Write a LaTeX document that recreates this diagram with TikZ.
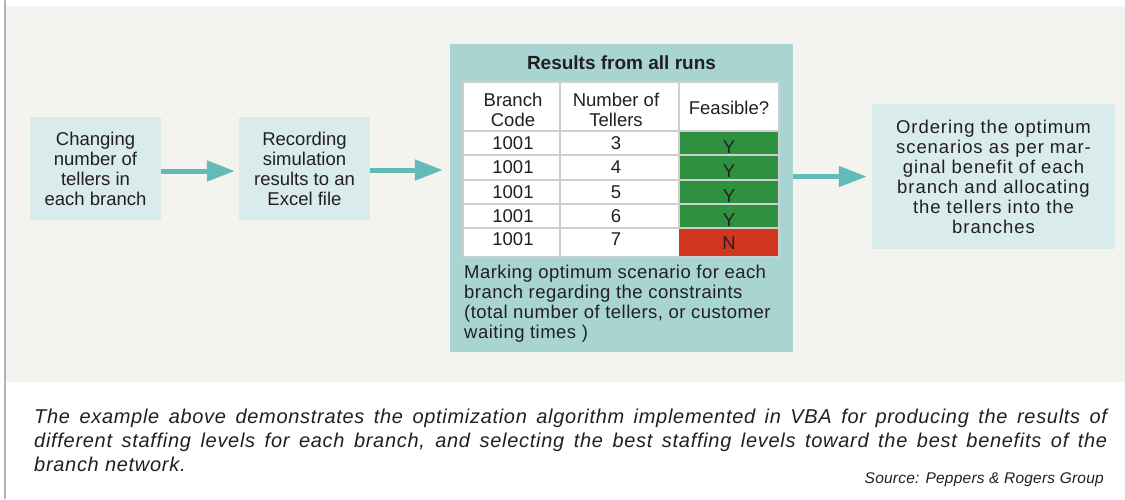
\documentclass[tikz,border=0pt]{standalone}
\usepackage{fontspec}
\setmainfont{Liberation Sans}
\newfontfamily\wideA[LetterSpace=5]{Liberation Sans}
\newfontfamily\wideB[LetterSpace=2.5]{Liberation Sans}
\newfontfamily\capfont[LetterSpace=3.5]{Liberation Sans}
\newfontfamily\srcfont[LetterSpace=1.5]{Liberation Sans}
\usetikzlibrary{arrows.meta}
\definecolor{bgc}{HTML}{F3F4EF}
\definecolor{boxc}{HTML}{D9EBEA}
\definecolor{panelc}{HTML}{A8D4D2}
\definecolor{arrc}{HTML}{62BBB6}
\definecolor{ygreen}{HTML}{2E9140}
\definecolor{nred}{HTML}{D2361E}
\definecolor{txt}{HTML}{231F20}
\definecolor{gridc}{HTML}{CFCFCF}
\definecolor{bordc}{HTML}{B4B4B4}
\tikzset{
  lbox/.style={fill=boxc, inner sep=0pt, align=center, text=txt,
    font=\fontsize{18.5}{20}\selectfont},
  panel/.style={fill=panelc, inner sep=0pt},
  cell/.style={inner sep=0pt, align=center, text=txt,
    font=\fontsize{18.5}{20}\selectfont},
  arr/.style={draw=arrc, line width=5pt, -{Triangle[length=28pt,width=20pt]}},
  captext/.style={inner sep=0pt, text=txt, font=\capfont\fontsize{20}{24}\selectfont\itshape},
}
\begin{document}
\begin{tikzpicture}[x=1pt,y=-1pt]
\useasboundingbox (0,0) rectangle (1125,499);
\fill[white] (0,0) rectangle (1125,499);
\fill[bgc] (6,6) rectangle (1125,382);
\draw[bordc, line width=2pt] (5,0) -- (5,499);

% boxes
\node[lbox, minimum width=131pt, minimum height=103pt] (b1) at (95.5,168.5)
  {Changing\\number of\\tellers in\\each branch};
\node[lbox, minimum width=131pt, minimum height=103pt] (b2) at (304.5,168.5)
  {Recording\\simulation\\results to an\\Excel file};
\node[panel, minimum width=343pt, minimum height=308pt] (tab) at (621.5,198) {};
\node[lbox, minimum width=243pt, minimum height=145pt, font=\wideA\fontsize{18.5}{20}\selectfont] (b4) at (993.5,176.5)
  {Ordering the optimum\\scenarios as per mar-\\ginal benefit of each\\branch and allocating\\the tellers into the\\branches};

% table
\node[cell, font=\fontsize{19}{20}\selectfont\bfseries] (title) at (621.5,63) {Results from all runs};
\fill[white] (463,82) rectangle (779,257);
\fill[ygreen] (679,131) rectangle (779,228);
\fill[nred] (679,228) rectangle (779,257);
\draw[gridc, line width=1.5pt] (463,82) rectangle (779,257);
\draw[gridc, line width=1.5pt] (560,82) -- (560,257) (679,82) -- (679,228);
\foreach \yy in {131,155,180,204,228} \draw[gridc, line width=1.5pt] (463,\yy) -- (779,\yy);

\node[cell] (h1) at (513,109.5) {Branch\\Code};
\node[cell] (h2) at (616,109.5) {Number of\\Tellers};
\node[cell] (h3) at (729,108) {Feasible?};

\node[cell] (r1a) at (513,143) {1001};
\node[cell] (r1b) at (616,143) {3};
\node[cell] (r1c) at (729,147) {Y};
\node[cell] (r2a) at (513,167.5) {1001};
\node[cell] (r2b) at (616,167.5) {4};
\node[cell] (r2c) at (729,171.5) {Y};
\node[cell] (r3a) at (513,192) {1001};
\node[cell] (r3b) at (616,192) {5};
\node[cell] (r3c) at (729,196) {Y};
\node[cell] (r4a) at (513,216) {1001};
\node[cell] (r4b) at (616,216) {6};
\node[cell] (r4c) at (729,220) {Y};
\node[cell] (r5a) at (513,239) {1001};
\node[cell] (r5b) at (616,239) {7};
\node[cell] (r5c) at (729,243) {N};

\node[cell, align=left, anchor=north west, font=\wideB\fontsize{18.5}{20}\selectfont] (mark) at (464,265)
  {Marking optimum scenario for each\\branch regarding the constraints\\(total number of tellers, or customer\\waiting times )};

% arrows
\coordinate (a2e) at ([xshift=-7pt,yshift=-1.5pt]tab.west |- b2.east);
\draw[arr] ([yshift=-2.5pt]b1.east) -- ([xshift=-4pt,yshift=-2.5pt]b2.west);
\draw[arr] ([yshift=-1.5pt]b2.east) -- (a2e);
\draw[arr] (tab.east |- b4.west) -- ([xshift=-5pt]b4.west);

% caption
\node[captext, anchor=base west] (c1) at (34,423)
  {\makebox[1073pt][s]{The example above demonstrates the optimization algorithm implemented in VBA for producing the results of}};
\node[captext, anchor=base west] (c2) at (34,447)
  {\makebox[1073pt][s]{different staffing levels for each branch, and selecting the best staffing levels toward the best benefits of the}};
\node[captext, anchor=base west] (c3) at (34,471) {branch network.};
\node[captext, anchor=base east, font=\srcfont\fontsize{15.5}{18}\selectfont\itshape] (src) at (1104,483)
  {Source: Peppers \& Rogers Group};
\end{tikzpicture}
\end{document}
